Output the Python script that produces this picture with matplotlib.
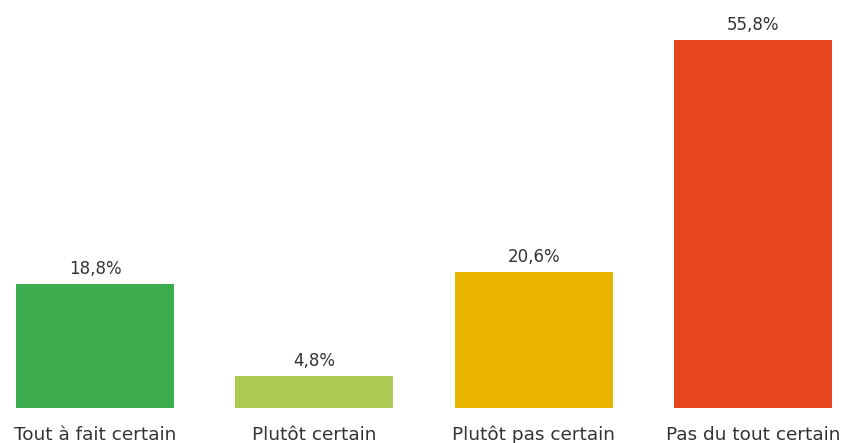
import matplotlib
matplotlib.use("Agg")
import matplotlib.pyplot as plt

categories = ["Tout à fait certain", "Plutôt certain", "Plutôt pas certain", "Pas du tout certain"]
values = [18.8, 4.8, 20.6, 55.8]
colors = ["#3dac4f", "#aecb55", "#e9b400", "#e8461e"]
labels = ["18,8%", "4,8%", "20,6%", "55,8%"]

plt.rcParams["font.family"] = ["DejaVu Sans"]

fig = plt.figure(figsize=(8.46, 4.43), dpi=100)
ax = fig.add_axes([16 / 846, 35 / 443, 816 / 846, 368 / 443])

x = list(range(len(categories)))
bars = ax.bar(x, values, width=0.72, color=colors)
ax.set_xlim(-0.36, 3.36)
ax.set_ylim(0, 55.8)

for b, lab in zip(bars, labels):
    ax.annotate(lab, (b.get_x() + b.get_width() / 2, b.get_height()),
                xytext=(0, 10), textcoords="offset pixels",
                ha="center", va="baseline", fontsize=12, color="#333333")

# category names under the bars, all on one baseline
for i, cat in zip(x, categories):
    ax.annotate(cat, (i, 0), xycoords=("data", "axes fraction"),
                xytext=(0, -32), textcoords="offset pixels",
                ha="center", va="baseline", fontsize=13.3, color="#333333")

ax.set_xticks([])
ax.set_yticks([])
for s in ax.spines.values():
    s.set_visible(False)

fig.savefig("out.png", dpi=100)
